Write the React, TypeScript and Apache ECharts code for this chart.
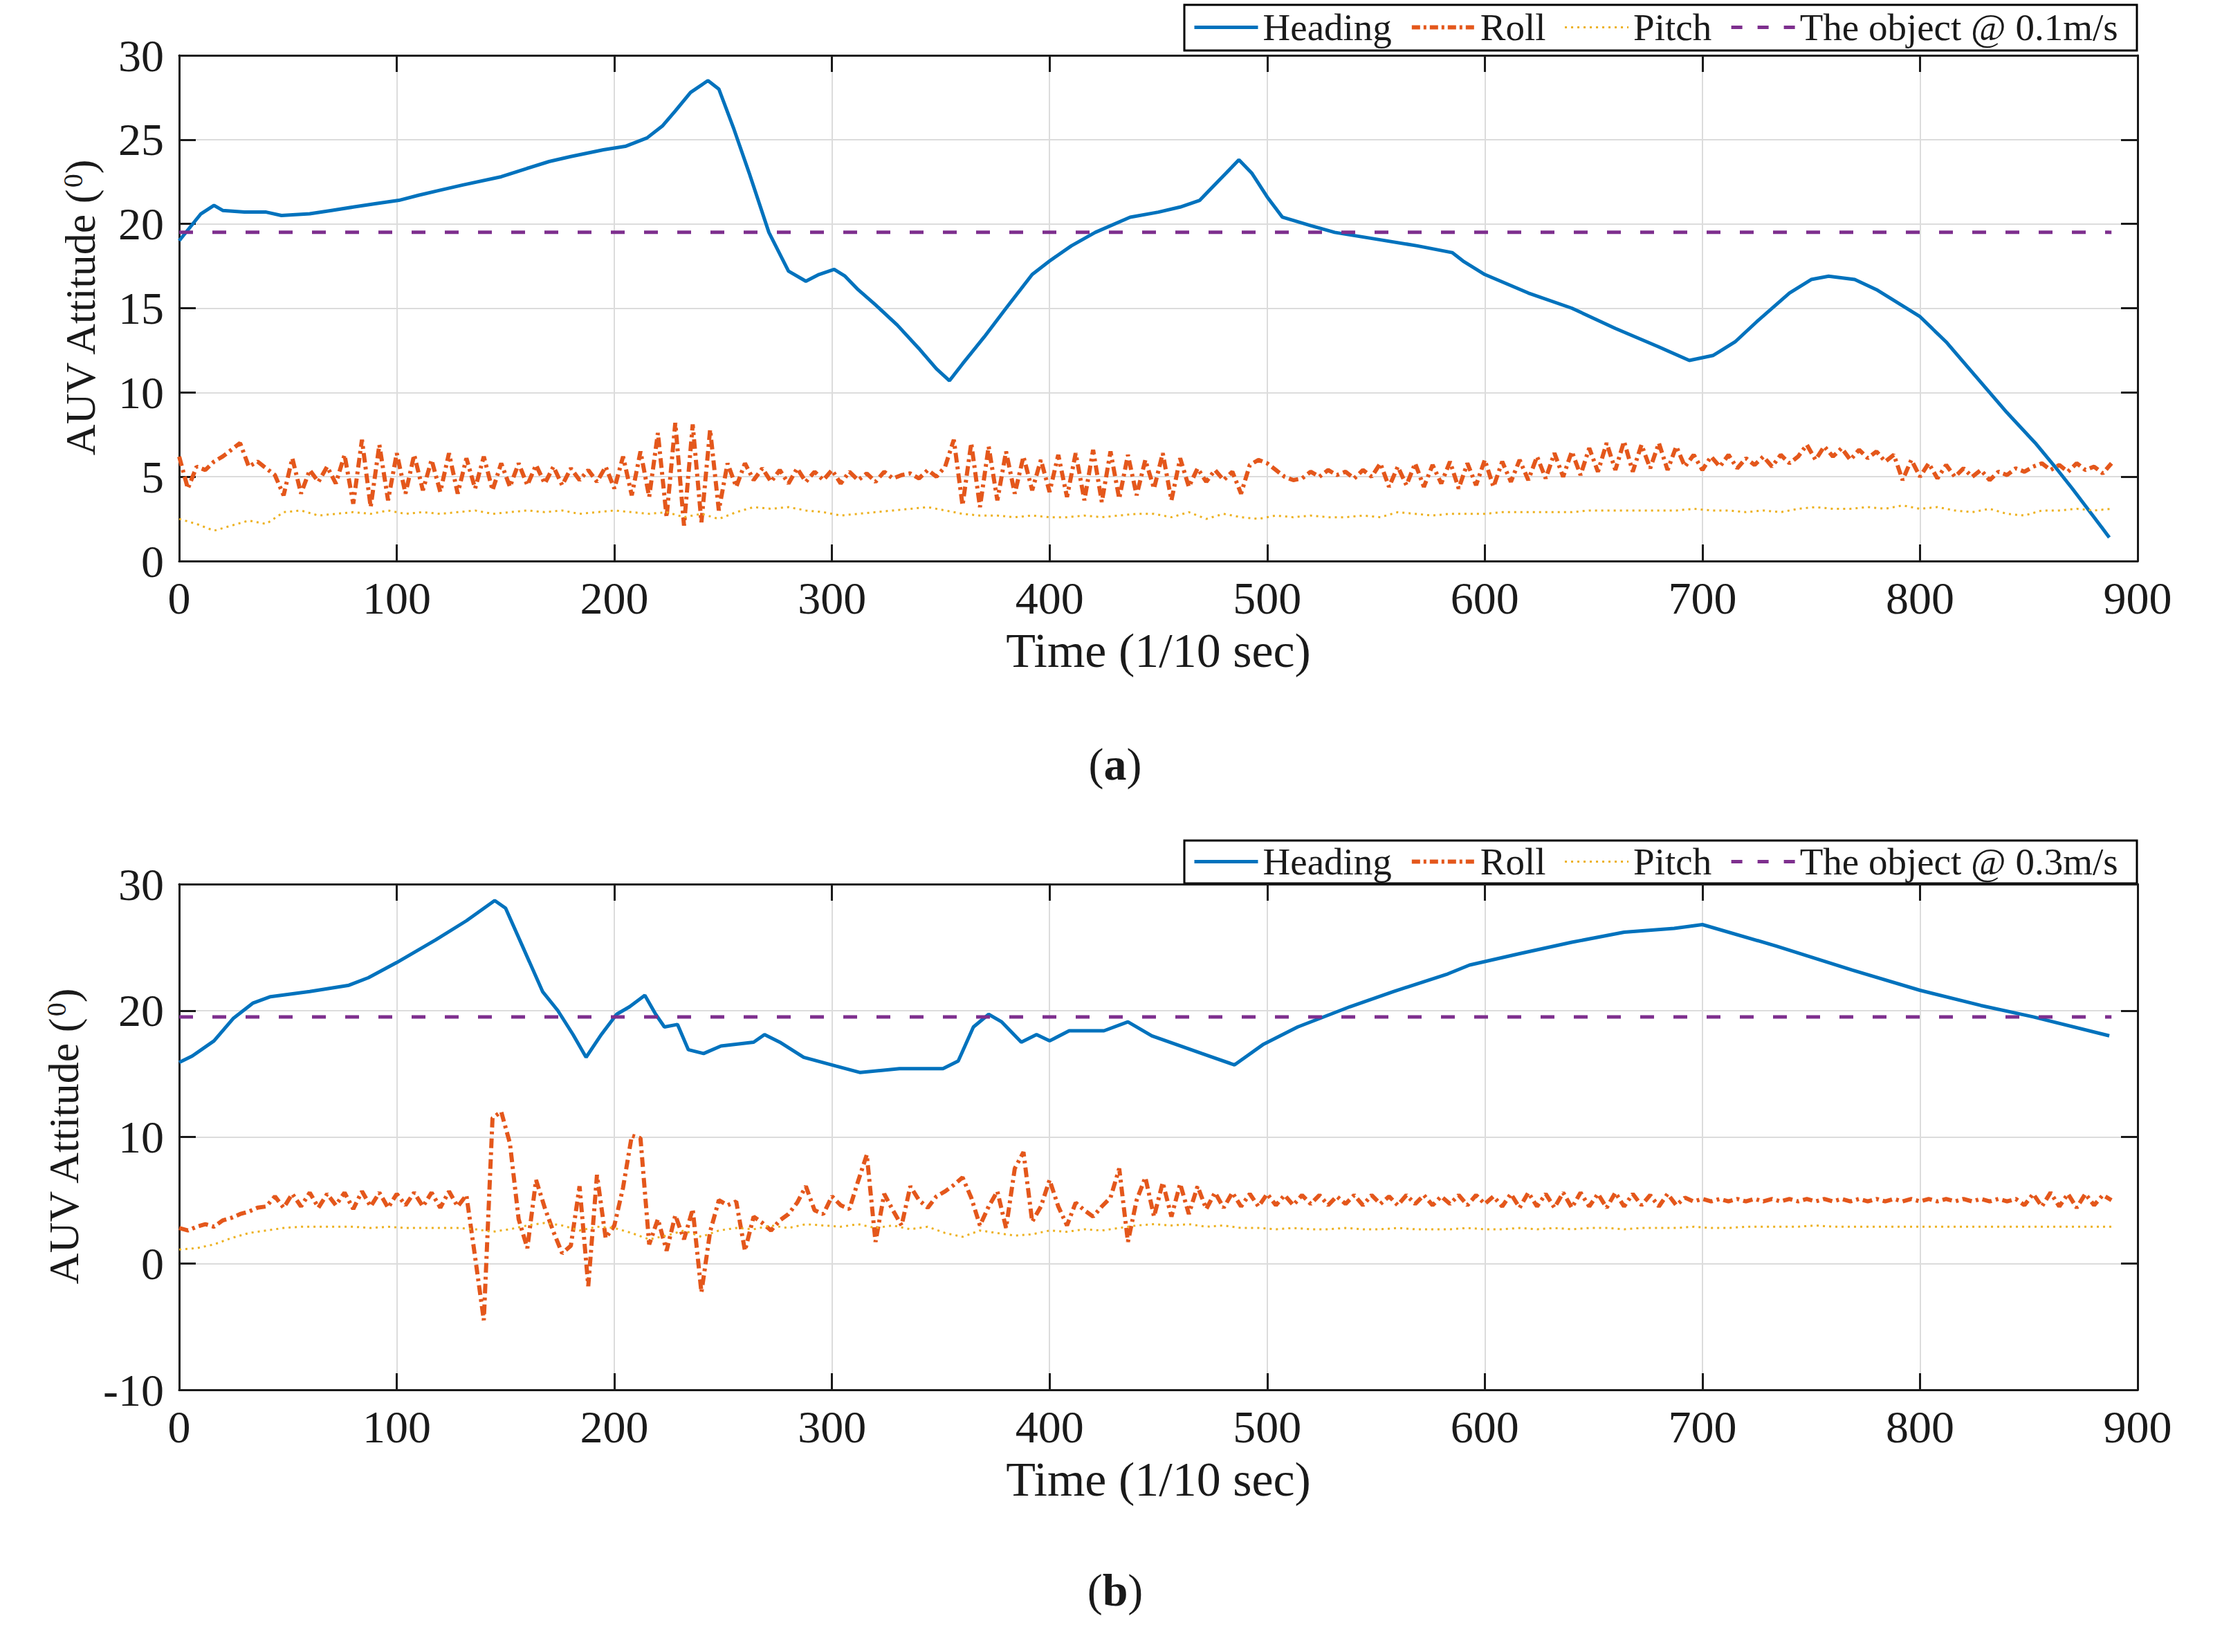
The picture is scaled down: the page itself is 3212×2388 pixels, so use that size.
import React, { useEffect, useRef } from "react";
import * as echarts from "echarts";

// ---- data ----
const timeTicks = [0, 100, 200, 300, 400, 500, 600, 700, 800, 900];

// panel (a): object at 0.1 m/s
const headingATime = [
  0, 5, 10, 16, 20, 30, 40, 47, 60, 70, 80, 90, 101, 110, 120, 130, 148, 160, 170, 180,
  195, 205, 215, 222, 228, 235, 243, 248, 255, 262, 271, 280, 288, 294, 301, 306, 312, 320, 330, 340,
  348, 354, 360, 370, 380, 392, 400, 410, 421, 437, 450, 460, 469, 478, 487, 493, 500, 507, 520, 531,
  550, 569, 585, 590, 600, 620, 640, 660, 680, 694, 705, 715, 725, 740, 750, 758, 770, 780, 790, 800,
  812, 824, 840, 853, 862, 870, 880, 887,
];
const headingA = [
  19.0, 19.8, 20.6, 21.1, 20.8, 20.7, 20.7, 20.5, 20.6, 20.8, 21.0, 21.2, 21.4, 21.7, 22.0, 22.3, 22.8, 23.3, 23.7, 24.0,
  24.4, 24.6, 25.1, 25.8, 26.7, 27.8, 28.5, 28.0, 25.6, 23.0, 19.5, 17.2, 16.6, 17.0, 17.3, 16.9, 16.1, 15.2, 14.0, 12.6,
  11.4, 10.7, 11.7, 13.3, 15.0, 17.0, 17.8, 18.7, 19.5, 20.4, 20.7, 21.0, 21.4, 22.6, 23.8, 23.0, 21.6, 20.4, 19.9, 19.5,
  19.1, 18.7, 18.3, 17.8, 17.0, 15.9, 15.0, 13.8, 12.7, 11.9, 12.2, 13.0, 14.2, 15.9, 16.7, 16.9, 16.7, 16.1, 15.3, 14.5,
  13.0, 11.2, 8.8, 7.0, 5.6, 4.3, 2.6, 1.4,
];
// sampled every 4 time units from 0
const rollA = [
  6.2, 4.3, 5.6,
  5.4, 5.9, 6.2, 6.6, 7.0,
  5.6, 5.9, 5.5, 5.1,
  3.9, 6.1, 4.0,
  5.4, 4.7, 5.6, 4.6,
  6.3, 3.4, 7.2, 3.2, 6.9, 3.6, 6.4,
  4.0, 6.3, 4.2, 6.0, 4.1, 6.4, 4.0, 6.1, 4.3, 6.2, 4.2,
  5.8, 4.4, 5.8, 4.5, 5.7, 4.6, 5.6, 4.5, 5.5, 4.8, 5.4, 4.7, 5.6,
  4.3, 6.2, 3.9, 6.5, 3.8,
  7.6, 2.6, 8.2, 2.1, 8.1, 2.3, 7.8, 3.0,
  5.8,
  4.4, 5.8, 4.8, 5.5, 4.7, 5.4, 4.6, 5.5, 4.7, 5.3, 4.8, 5.4, 4.6, 5.3, 4.8, 5.2, 4.7, 5.3, 4.9,
  5.1, 5.2, 4.9, 5.4, 5.0, 5.6,
  7.2, 3.3, 7.0, 3.2, 6.8, 3.6, 6.5,
  4.0, 6.2, 4.2, 6.0, 4.1, 6.3, 3.8, 6.4, 3.6, 6.6, 3.5, 6.5, 3.7, 6.3, 3.9, 6.0, 4.3,
  6.4, 3.6, 6.1, 4.4,
  5.5, 4.7, 5.4, 4.8, 5.3, 4.0,
  5.7, 6.0, 5.8,
  5.4, 5.0, 4.8, 4.9,
  5.3, 5.0, 5.4, 5.1, 5.3, 4.9, 5.4, 5.0,
  5.8, 4.4, 5.6, 4.5, 5.8, 4.4, 5.7, 4.6, 5.9, 4.3, 5.8, 4.5, 6.0, 4.4, 5.9,
  4.7, 6.0, 4.8, 6.2, 4.9, 6.4, 5.0, 6.5, 5.1, 6.7,
  5.3, 7.0, 5.4, 7.1, 5.3, 6.9, 5.5, 7.0, 5.4, 6.8, 5.6,
  6.3, 5.4, 6.2, 5.6, 6.3, 5.5, 6.1, 5.7, 6.2, 5.6, 6.3, 5.8, 6.2,
  6.9, 6.0, 6.8, 6.2, 6.7, 6.0, 6.6, 6.1, 6.5, 5.9, 6.3,
  4.8, 6.0, 5.0, 5.8, 4.9, 5.7, 5.0, 5.5,
  5.0, 5.4, 4.8, 5.3, 5.1, 5.5, 5.3, 5.6,
  5.8, 5.4, 5.7, 5.3, 5.8, 5.4, 5.6, 5.2, 5.8,
];
// sampled every 8 time units from 0
const pitchA = [
  2.5, 2.2, 1.8, 2.1, 2.4, 2.2, 2.9, 3.0, 2.7, 2.8, 2.9, 2.8, 3.0, 2.8, 2.9, 2.8, 2.9, 3.0, 2.8, 2.9,
  3.0, 2.9, 3.0, 2.8, 2.9, 3.0, 2.9, 2.8, 2.9, 2.6, 2.8, 2.5, 2.9, 3.2, 3.1, 3.2, 3.0, 2.9, 2.7, 2.8,
  2.9, 3.0, 3.1, 3.2, 3.0, 2.8, 2.7, 2.7, 2.6, 2.7, 2.6, 2.6, 2.7, 2.6, 2.7, 2.8, 2.8, 2.6, 2.9, 2.5,
  2.8, 2.6, 2.5, 2.7, 2.6, 2.7, 2.6, 2.6, 2.7, 2.6, 2.9, 2.8, 2.7, 2.8, 2.8, 2.8, 2.9, 2.9, 2.9, 2.9,
  2.9, 3.0, 3.0, 3.0, 3.0, 3.0, 3.0, 3.1, 3.0, 3.0, 2.9, 3.0, 2.9, 3.1, 3.2, 3.1, 3.1, 3.2, 3.1, 3.3,
  3.1, 3.2, 3.0, 2.9, 3.1, 2.8, 2.7, 3.0, 3.0, 3.1, 3.0, 3.1,
];

// panel (b): object at 0.3 m/s
const headingBTime = [
  0, 6, 16, 25, 34, 42, 60, 78, 87, 100, 118, 132, 145, 150, 158, 167, 174, 181, 187, 194,
  201, 207, 214, 219, 223, 229, 234, 241, 249, 264, 269, 276, 287, 302, 313, 331, 351, 358, 365, 372,
  378, 387, 394, 400, 409, 425, 436, 447, 470, 485, 498, 514, 529, 538, 558, 583, 593, 616, 640, 664,
  687, 700, 734, 769, 800, 828, 852, 887,
];
const headingB = [
  15.9, 16.4, 17.6, 19.4, 20.6, 21.1, 21.5, 22.0, 22.6, 23.8, 25.6, 27.1, 28.7, 28.1, 25.0, 21.5, 20.0, 18.1, 16.3, 18.1,
  19.7, 20.3, 21.2, 19.7, 18.7, 18.9, 16.9, 16.6, 17.2, 17.5, 18.1, 17.5, 16.3, 15.6, 15.1, 15.4, 15.4, 16.0, 18.7, 19.7,
  19.1, 17.5, 18.1, 17.6, 18.4, 18.4, 19.1, 18.0, 16.6, 15.7, 17.3, 18.7, 19.7, 20.3, 21.5, 22.9, 23.6, 24.5, 25.4, 26.2,
  26.5, 26.8, 25.1, 23.2, 21.6, 20.4, 19.5, 18.0,
];
// sampled every 4 time units from 0
const rollB = [
  2.8, 2.6, 2.9, 3.1, 2.9, 3.4, 3.6, 3.9, 4.1, 4.4,
  4.5, 5.3, 4.4, 5.5, 4.5, 5.6, 4.4, 5.5, 4.6, 5.6, 4.3, 5.7, 4.5, 5.6, 4.4, 5.5, 4.6, 5.6, 4.5, 5.6, 4.4, 5.7, 4.5, 5.4,
  0.5, -4.5, 11.5, 12.0, 9.5, 3.5, 1.2, 6.6, 4.4, 2.5, 0.8, 1.4, 6.1, -1.8, 7.0, 2.0, 3.0, 6.0, 10.1, 9.9,
  1.5, 3.5, 1.0, 3.8, 1.9, 4.3, -2.3, 2.5, 5.0, 4.6, 4.9, 1.0, 3.7, 3.2, 2.6, 3.4, 3.9, 4.8, 6.1, 4.2,
  3.9, 5.3, 4.6, 4.3, 6.5, 8.6, 1.7, 5.5, 4.2, 3.0, 6.1, 5.0, 4.4, 5.3, 5.7, 6.2, 6.8, 5.2, 3.0, 4.5,
  5.7, 2.8, 7.5, 8.8, 3.3, 4.5, 6.6, 4.5, 3.0, 4.8, 4.2, 3.7, 4.5, 5.2, 7.5, 1.7, 5.0, 6.8, 3.7, 6.4,
  3.7, 6.3, 3.9, 6.1, 4.3,
  5.6, 4.4, 5.6, 4.5, 5.5, 4.5, 5.5,
  4.6, 5.4, 4.6, 5.4, 4.7, 5.4, 4.6, 5.3, 4.7, 5.4, 4.6, 5.4, 4.7, 5.3, 4.6, 5.4, 4.7, 5.4, 4.6, 5.3,
  4.7, 5.4, 4.6, 5.4, 4.7, 5.3,
  4.5, 5.5, 4.4, 5.6, 4.5, 5.5, 4.4, 5.6, 4.4, 5.6, 4.5, 5.5, 4.4, 5.6, 4.5, 5.5, 4.6, 5.4, 4.5, 5.5,
  4.6, 5.2,
  4.9, 5.1, 4.9, 5.1, 4.9, 5.1, 4.9, 5.1, 4.9, 5.1, 4.9, 5.1, 4.9, 5.1, 4.9, 5.1, 4.9, 5.1, 4.9, 5.1,
  4.9, 5.1, 4.9, 5.1, 4.9, 5.1, 4.9, 5.1, 4.9, 5.1, 4.9, 5.1, 4.9, 5.1, 4.9, 5.1, 4.9, 5.1,
  4.6, 5.5, 4.5, 5.6, 4.5, 5.5, 4.4, 5.5, 4.6, 5.4, 5.0,
];
// sampled every 8 time units from 0
const pitchB = [
  1.1, 1.2, 1.5, 2.0, 2.4, 2.6, 2.8, 2.9, 2.9, 2.9, 2.9, 2.8, 2.9, 2.8, 2.8, 2.8, 2.8, 2.7, 2.5, 2.7,
  3.0, 3.2, 3.0, 2.6, 2.9, 2.8, 2.4, 1.9, 2.2, 2.6, 2.1, 2.6, 2.8, 2.7, 3.0, 2.8, 3.1, 3.0, 2.9, 3.1,
  2.8, 3.0, 2.7, 2.9, 2.4, 2.1, 2.6, 2.4, 2.2, 2.3, 2.6, 2.5, 2.7, 2.6, 2.8, 3.0, 3.1, 3.0, 3.1, 2.9,
  3.0, 2.8, 2.8,
  2.7, 2.8, 2.7, 2.7, 2.8, 2.7, 2.7, 2.8, 2.7, 2.7, 2.7, 2.8, 2.7, 2.7, 2.8, 2.7, 2.8, 2.7, 2.8, 2.8,
  2.7, 2.8, 2.8, 2.8, 2.9, 2.8, 2.8, 2.9, 2.9, 2.9, 2.9, 3.0, 2.9, 2.9, 2.9, 2.9, 2.9, 2.9, 2.9, 2.9,
  2.9, 2.9, 2.9, 2.9, 2.9, 2.9, 2.9, 2.9, 2.9,
];

const ROLL_STEP = 4;
const PITCH_STEP = 8;
const OBJECT_LEVEL = 19.5;
const END_TIME = 888;
const yTicksA = { min: 0, max: 30, interval: 5 };
const yTicksB = { min: -10, max: 30, interval: 10 };

// ---- style ----
const FONT = '"Liberation Serif", "Times New Roman", serif';
const INK = "#1a1a1a";
const C_HEADING = "#0072BD";
const C_ROLL = "#E4571B";
const C_PITCH = "#EDB120";
const C_OBJECT = "#7E2F8E";

const W_HEADING = 5;
const W_ROLL = 6;
const W_PITCH = 3;
const W_OBJECT = 5;
const DASH_ROLL = [14, 6, 4, 6];
const DASH_PITCH = [3, 6];
const DASH_OBJECT = [20, 28];

const PLOT_LEFT = 259;
const PLOT_W = 2831;
const PLOT_H = 731;
const TOP_A = 80;
const TOP_B = 1278;

const pairs = (ts: number[], vs: number[]) => ts.map((t, i) => [t, vs[i]]);
const stepped = (vs: number[], step: number) => vs.map((v, i) => [i * step, v]);

const frameLine = { show: true, onZero: false, lineStyle: { color: INK, width: 3 } };
const tickIn = { show: true, inside: true, length: 24, lineStyle: { color: INK, width: 3 } };

const xAxes = (grid: number) => [
  {
    type: "value", gridIndex: grid, position: "bottom",
    min: timeTicks[0], max: timeTicks[timeTicks.length - 1], interval: 100,
    axisLine: frameLine, axisTick: tickIn,
    axisLabel: { fontFamily: FONT, fontSize: 66, color: INK, margin: 20 },
    splitLine: { show: true, lineStyle: { color: "#dcdcdc", width: 2 } },
    name: "Time (1/10 sec)", nameLocation: "middle", nameGap: 94,
    nameTextStyle: { fontFamily: FONT, fontSize: 70, color: INK },
  },
  {
    type: "value", gridIndex: grid, position: "top",
    min: timeTicks[0], max: timeTicks[timeTicks.length - 1], interval: 100,
    axisLine: frameLine, axisTick: tickIn, axisLabel: { show: false }, splitLine: { show: false },
  },
];

const yAxes = (grid: number, ticks: { min: number; max: number; interval: number }, gap: number) => [
  {
    type: "value", gridIndex: grid, position: "left", ...ticks,
    axisLine: frameLine, axisTick: tickIn,
    axisLabel: { fontFamily: FONT, fontSize: 66, color: INK, margin: 22 },
    splitLine: { show: true, lineStyle: { color: "#dcdcdc", width: 2 } },
    name: "AUV Attitude ({sup|0})", nameLocation: "middle", nameGap: gap,
    nameTextStyle: {
      fontFamily: FONT, fontSize: 62, color: INK,
      rich: { sup: { fontFamily: FONT, fontSize: 40, color: INK, verticalAlign: "top" } },
    },
  },
  {
    type: "value", gridIndex: grid, position: "right", ...ticks,
    axisLine: frameLine, axisTick: tickIn, axisLabel: { show: false }, splitLine: { show: false },
  },
];

const panelSeries = (
  axis: number, heading: number[][], roll: number[][], pitch: number[][], objectName: string,
) => {
  const base = { type: "line", xAxisIndex: axis, yAxisIndex: axis, symbol: "none", showSymbol: false };
  return [
    { ...base, name: "Heading", data: heading, lineStyle: { color: C_HEADING, width: W_HEADING }, itemStyle: { color: C_HEADING } },
    { ...base, name: "Roll", data: roll, lineStyle: { color: C_ROLL, width: W_ROLL, type: DASH_ROLL }, itemStyle: { color: C_ROLL } },
    { ...base, name: "Pitch", data: pitch, lineStyle: { color: C_PITCH, width: W_PITCH, type: DASH_PITCH }, itemStyle: { color: C_PITCH } },
    {
      ...base, name: objectName, data: [[0, OBJECT_LEVEL], [END_TIME, OBJECT_LEVEL]],
      lineStyle: { color: C_OBJECT, width: W_OBJECT, type: DASH_OBJECT }, itemStyle: { color: C_OBJECT },
    },
  ];
};

const legendFor = (top: number, objectName: string) => ({
  data: [
    { name: "Heading", lineStyle: { width: W_HEADING, color: C_HEADING } },
    { name: "Roll", lineStyle: { width: W_ROLL, color: C_ROLL, type: [12, 5, 4, 5] } },
    { name: "Pitch", lineStyle: { width: W_PITCH, color: C_PITCH, type: DASH_PITCH } },
    { name: objectName, lineStyle: { width: W_OBJECT, color: C_OBJECT, type: [16, 22] } },
  ],
  left: 1724, top, padding: 0,
  itemWidth: 92, itemHeight: 2, itemGap: 26,
  selectedMode: false,
  itemStyle: { opacity: 0 },
  textStyle: { fontFamily: FONT, fontSize: 55, color: INK, padding: [0, 0, 0, 2] },
});

const App: React.FC = () => {
  const chartRef = useRef<HTMLDivElement>(null);

  useEffect(() => {
    if (!chartRef.current) return;
    const chart = echarts.init(chartRef.current, undefined, { renderer: "svg" });

    chart.setOption({
      animation: false,
      backgroundColor: "#ffffff",
      grid: [
        { left: PLOT_LEFT, top: TOP_A, width: PLOT_W, height: PLOT_H },
        { left: PLOT_LEFT, top: TOP_B, width: PLOT_W, height: PLOT_H },
      ],
      xAxis: [...xAxes(0), ...xAxes(1)],
      yAxis: [...yAxes(0, yTicksA, 112), ...yAxes(1, yTicksB, 136)],
      legend: [legendFor(12, "The object @ 0.1m/s"), legendFor(1218, "The object @ 0.3m/s")],
      graphic: [
        { type: "rect", shape: { x: 1712, y: 7, width: 1377, height: 66 }, style: { fill: "#fff", stroke: "#000", lineWidth: 3 } },
        { type: "rect", shape: { x: 1712, y: 1215, width: 1377, height: 62 }, style: { fill: "#fff", stroke: "#000", lineWidth: 3 } },
        {
          type: "text", x: 1612, y: 1104,
          style: {
            text: "({b|a})", fontFamily: FONT, fontSize: 66, fill: INK, align: "center", verticalAlign: "middle",
            rich: { b: { fontFamily: FONT, fontSize: 66, fontWeight: "bold", fill: INK } },
          },
        },
        {
          type: "text", x: 1612, y: 2298,
          style: {
            text: "({b|b})", fontFamily: FONT, fontSize: 66, fill: INK, align: "center", verticalAlign: "middle",
            rich: { b: { fontFamily: FONT, fontSize: 66, fontWeight: "bold", fill: INK } },
          },
        },
      ],
      series: [
        ...panelSeries(
          0,
          pairs(headingATime, headingA),
          stepped(rollA, ROLL_STEP),
          stepped(pitchA, PITCH_STEP),
          "The object @ 0.1m/s",
        ),
        ...panelSeries(
          2,
          pairs(headingBTime, headingB),
          stepped(rollB, ROLL_STEP),
          stepped(pitchB, PITCH_STEP),
          "The object @ 0.3m/s",
        ),
      ],
    });

    return () => {
      chart.dispose();
    };
  }, []);

  return (
    <div
      ref={chartRef}
      style={{ position: "absolute", left: 0, top: 0, width: 3212, height: 2388, background: "#fff" }}
    />
  );
};

export default App;
